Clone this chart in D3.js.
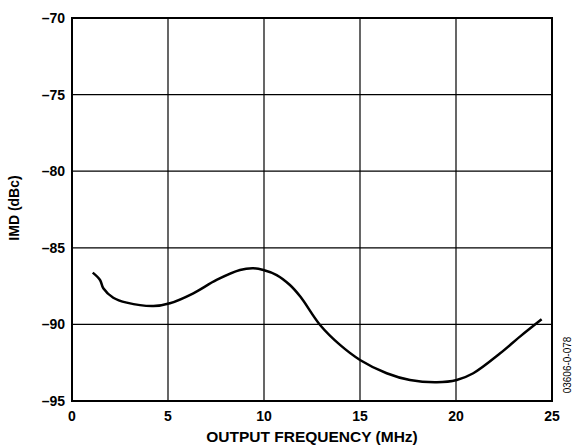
<!DOCTYPE html>
<html><head><meta charset="utf-8">
<script src="https://cdn.jsdelivr.net/npm/d3@7/dist/d3.min.js"></script>
<style>body{margin:0;background:#fff}svg{display:block}text{font-family:"Liberation Sans",Arial,sans-serif}</style>
</head><body>
<svg id="c" width="573" height="446"></svg>
<script>
const freq = [1.08,1.46,1.63,2.15,2.85,4.24,5.1,6.32,7.53,8.75,9.44,9.97,10.66,11.35,11.9,12.92,13.96,15.0,16.39,17.6,19.0,20.04,20.9,22.3,23.33,24.46];
const imd  = [-86.62,-87.1,-87.64,-88.26,-88.58,-88.8,-88.62,-87.97,-87.1,-86.45,-86.34,-86.45,-86.78,-87.43,-88.2,-90.04,-91.34,-92.32,-93.19,-93.63,-93.78,-93.63,-93.19,-91.89,-90.8,-89.67];
const xTicks = [0,5,10,15,20,25];
const yTicks = [-95,-90,-85,-80,-75,-70];

const svg = d3.select("#c");
const L=72,R=552,T=18,B=401;
const x = d3.scaleLinear().domain([0,25]).range([L,R]);
const y = d3.scaleLinear().domain([-95,-70]).range([B,T]);

const g = svg.append("g");
g.selectAll(".vx").data(xTicks.slice(1,-1)).enter().append("line")
  .attr("x1",d=>x(d)).attr("x2",d=>x(d)).attr("y1",T).attr("y2",B)
  .attr("stroke","#000").attr("stroke-width",1.2);
g.selectAll(".hy").data(yTicks.slice(1,-1)).enter().append("line")
  .attr("y1",d=>y(d)).attr("y2",d=>y(d)).attr("x1",L).attr("x2",R)
  .attr("stroke","#000").attr("stroke-width",1.2);
g.append("rect").attr("x",L).attr("y",T).attr("width",R-L).attr("height",B-T)
  .attr("fill","none").attr("stroke","#000").attr("stroke-width",2);

const line = d3.line().x((d,i)=>x(freq[i])).y(d=>y(d)).curve(d3.curveCatmullRom.alpha(0.5));
svg.append("path").datum(imd).attr("d",line).attr("fill","none")
  .attr("stroke","#000").attr("stroke-width",2.5);

const fmt = d=> d<0 ? "\u2013"+Math.abs(d) : ""+d;
svg.selectAll(".yl").data(yTicks).enter().append("text")
  .attr("x",L-7).attr("y",d=>y(d)).attr("dy","0.36em").attr("text-anchor","end")
  .attr("font-size",14).attr("font-weight","bold").text(fmt);
svg.selectAll(".xl").data(xTicks).enter().append("text")
  .attr("x",d=>x(d)).attr("y",B+20).attr("text-anchor","middle")
  .attr("font-size",14).attr("font-weight","bold").text(d=>d);

svg.append("text").attr("x",312).attr("y",442).attr("text-anchor","middle")
  .attr("font-size",15.5).attr("font-weight","bold").text("OUTPUT FREQUENCY (MHz)");
svg.append("text").attr("transform","translate(19,208) rotate(-90)").attr("text-anchor","middle")
  .attr("font-size",14).attr("font-weight","bold").text("IMD (dBc)");
svg.append("text").attr("transform","translate(571,365) rotate(-90)").attr("text-anchor","middle")
  .attr("font-size",10).text("03606-0-078");
</script>
</body></html>
